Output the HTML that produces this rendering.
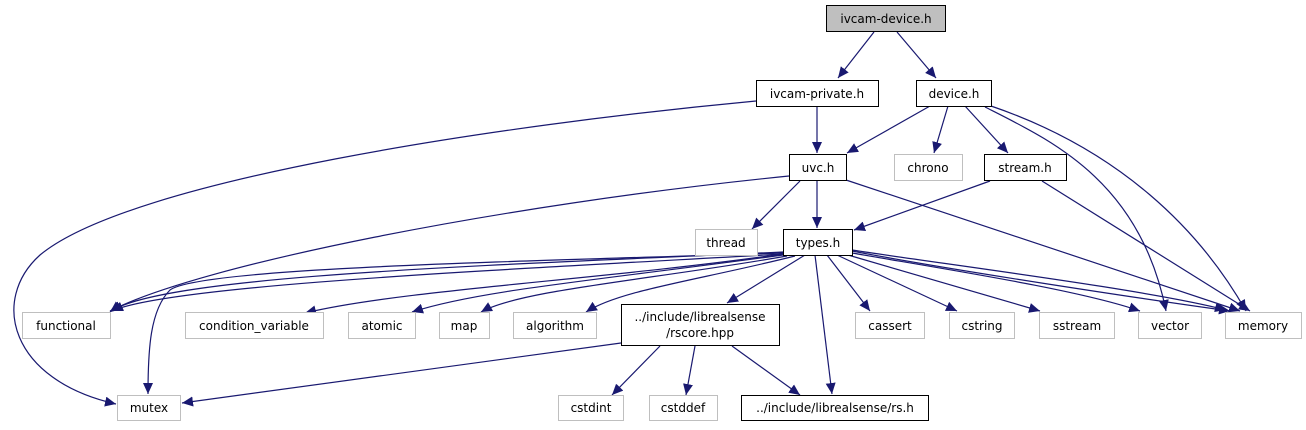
<!DOCTYPE html>
<html><head><meta charset="utf-8"><style>
html,body{margin:0;padding:0;background:#fff;}
svg text{font-family:"DejaVu Sans","Liberation Sans",sans-serif;font-size:12px;text-anchor:middle;fill:#000;}
</style></head><body>
<svg width="1306" height="425" viewBox="0 0 1306 425" xmlns="http://www.w3.org/2000/svg">
<defs>
<marker id="a" markerUnits="userSpaceOnUse" markerWidth="12" markerHeight="10" refX="11" refY="5" orient="auto">
<path d="M0,0 L11,5 L0,10 z" fill="#191970"/></marker>
</defs>
<g fill="none" stroke="#191970" stroke-width="1.2" marker-end="url(#a)">
<path d="M874,32 L838,78"/>
<path d="M897,32 L936,78"/>
<path d="M817,106 L817,153"/>
<path d="M756,101 C500,125 130,180 40,255 C-10,300 10,380 116,404"/>
<path d="M930,106 L847,153"/>
<path d="M948,106 L934,153"/>
<path d="M965,106 L1008,153"/>
<path d="M985,107 C1050,140 1140,180 1166,311"/>
<path d="M991,106 C1120,150 1200,230 1246,311"/>
<path d="M800,181 L752,229"/>
<path d="M817,181 L817,228"/>
<path d="M846,180 L1240,311"/>
<path d="M789,176 C500,205 200,265 110,311"/>
<path d="M990,181 L854,230"/>
<path d="M1042,181 L1250,311"/>
<path d="M783,252 C500,265 160,275 110,312"/>
<path d="M783,254 C500,270 170,285 112,311"/>
<path d="M783,254 C600,280 400,290 305,313"/>
<path d="M783,255 C600,280 480,290 412,312"/>
<path d="M787,256 C650,280 520,290 481,312"/>
<path d="M795,256 C700,280 620,290 586,312"/>
<path d="M805,255 L727,303"/>
<path d="M783,253 C500,262 200,268 170,290 C150,310 148,350 148,394"/>
<path d="M815,255 L832,394"/>
<path d="M827,255 L870,311"/>
<path d="M837,255 L957,311"/>
<path d="M848,255 L1040,311"/>
<path d="M852,253 C950,270 1080,290 1140,311"/>
<path d="M852,251 C950,270 1150,300 1230,311"/>
<path d="M852,250 C950,265 1150,290 1226,310"/>
<path d="M621,343 L182,403"/>
<path d="M660,346 L612,395"/>
<path d="M695,346 L686,395"/>
<path d="M732,346 L800,395"/>
</g>
<g stroke-width="1">
<rect x="826.5" y="5.5" width="119" height="26" fill="#bfbfbf" stroke="#000"/>
<rect x="756.5" y="80.5" width="122" height="26" fill="#fff" stroke="#000"/>
<rect x="916.5" y="80.5" width="75" height="26" fill="#fff" stroke="#000"/>
<rect x="789.5" y="154.5" width="57" height="26" fill="#fff" stroke="#000"/>
<rect x="894.5" y="154.5" width="68" height="26" fill="#fff" stroke="#bfbfbf"/>
<rect x="984.5" y="154.5" width="82" height="26" fill="#fff" stroke="#000"/>
<rect x="695.5" y="229.5" width="62" height="26" fill="#fff" stroke="#bfbfbf"/>
<rect x="783.5" y="229.5" width="69" height="26" fill="#fff" stroke="#000"/>
<rect x="22.5" y="312.5" width="88" height="26" fill="#fff" stroke="#bfbfbf"/>
<rect x="185.5" y="312.5" width="138" height="26" fill="#fff" stroke="#bfbfbf"/>
<rect x="348.5" y="312.5" width="67" height="26" fill="#fff" stroke="#bfbfbf"/>
<rect x="439.5" y="312.5" width="50" height="26" fill="#fff" stroke="#bfbfbf"/>
<rect x="513.5" y="312.5" width="83" height="26" fill="#fff" stroke="#bfbfbf"/>
<rect x="621.5" y="304.5" width="158" height="41" fill="#fff" stroke="#000"/>
<rect x="855.5" y="312.5" width="69" height="26" fill="#fff" stroke="#bfbfbf"/>
<rect x="949.5" y="312.5" width="65" height="26" fill="#fff" stroke="#bfbfbf"/>
<rect x="1039.5" y="312.5" width="75" height="26" fill="#fff" stroke="#bfbfbf"/>
<rect x="1138.5" y="312.5" width="63" height="26" fill="#fff" stroke="#bfbfbf"/>
<rect x="1225.5" y="312.5" width="76" height="26" fill="#fff" stroke="#bfbfbf"/>
<rect x="117.5" y="395.5" width="63" height="25" fill="#fff" stroke="#bfbfbf"/>
<rect x="558.5" y="395.5" width="65" height="25" fill="#fff" stroke="#bfbfbf"/>
<rect x="649.5" y="395.5" width="68" height="25" fill="#fff" stroke="#bfbfbf"/>
<rect x="741.5" y="395.5" width="187" height="25" fill="#fff" stroke="#000"/>
</g>
<text x="886" y="23">ivcam-device.h</text>
<text x="817" y="98">ivcam-private.h</text>
<text x="954" y="98">device.h</text>
<text x="818" y="172">uvc.h</text>
<text x="928" y="172">chrono</text>
<text x="1025" y="172">stream.h</text>
<text x="726" y="247">thread</text>
<text x="818" y="247">types.h</text>
<text x="66" y="330">functional</text>
<text x="254" y="330">condition_variable</text>
<text x="382" y="330">atomic</text>
<text x="464" y="330">map</text>
<text x="555" y="330">algorithm</text>
<text x="700" y="321">../include/librealsense</text>
<text x="700" y="337">/rscore.hpp</text>
<text x="890" y="330">cassert</text>
<text x="982" y="330">cstring</text>
<text x="1077" y="330">sstream</text>
<text x="1170" y="330">vector</text>
<text x="1263" y="330">memory</text>
<text x="149" y="412">mutex</text>
<text x="591" y="412">cstdint</text>
<text x="683" y="412">cstddef</text>
<text x="835" y="412">../include/librealsense/rs.h</text>
</svg>
</body></html>
